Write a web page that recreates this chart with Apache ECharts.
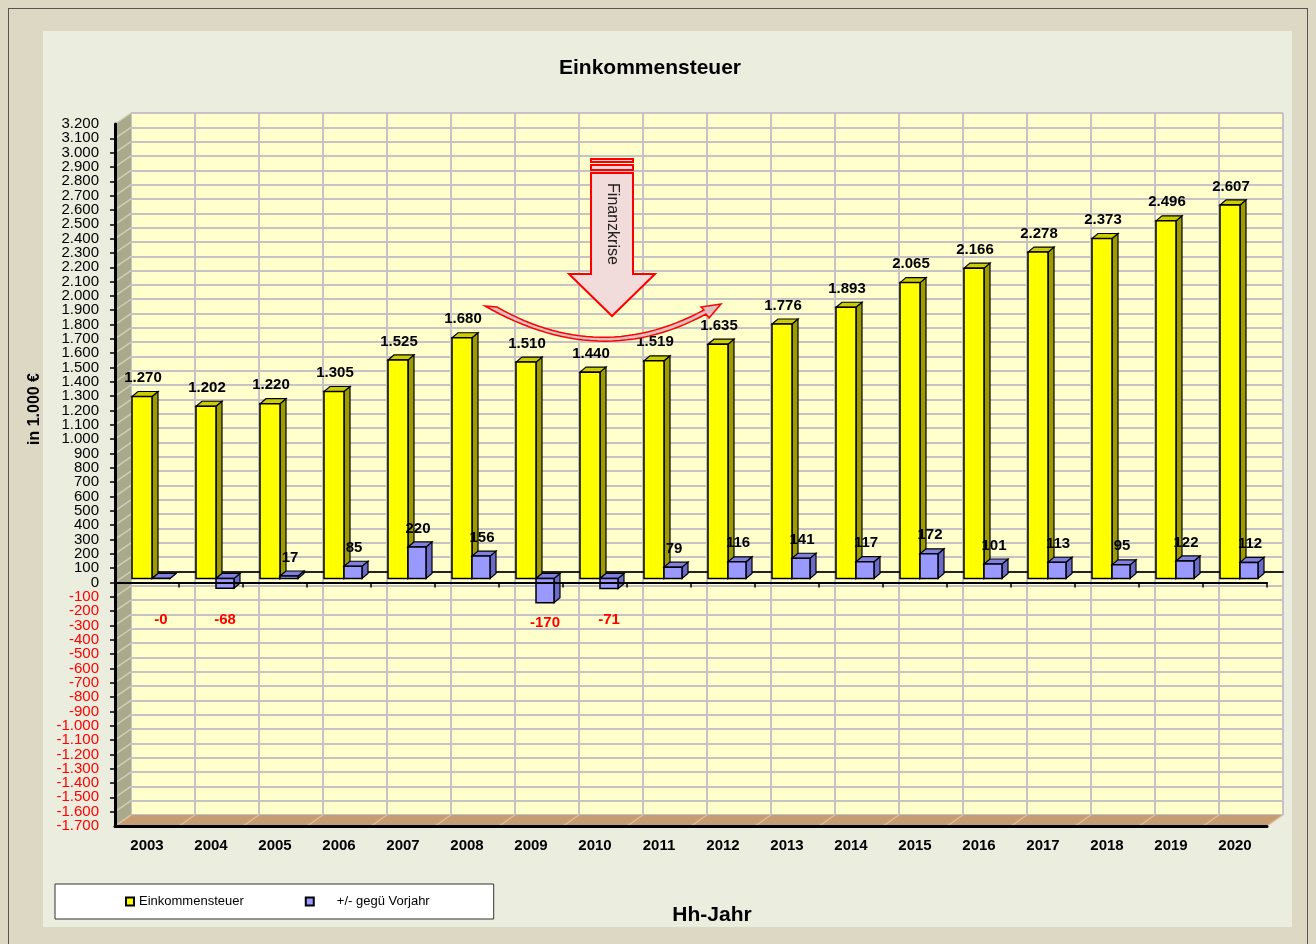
<!DOCTYPE html>
<html>
<head>
<meta charset="utf-8">
<script src="https://cdn.jsdelivr.net/npm/echarts@6/dist/echarts.min.js"></script>
<style>
  html, body { margin: 0; padding: 0; background: #ddd8c3; }
  #frame { position: absolute; left: 8px; top: 8px; width: 1300px; height: 940px; border: 1px solid #555; border-bottom: none; box-sizing: border-box; }
  #panel { position: absolute; left: 43px; top: 31px; width: 1249px; height: 896px; background: #ebeedf; }
  #main { position: absolute; left: 0; top: 0; width: 1316px; height: 944px; }
</style>
</head>
<body>
<div id="frame"></div>
<div id="panel"></div>
<div id="main"></div>
<script>
// data
const years = ["2003", "2004", "2005", "2006", "2007", "2008", "2009", "2010", "2011",
  "2012", "2013", "2014", "2015", "2016", "2017", "2018", "2019", "2020"];
const steuer = [1270, 1202, 1220, 1305, 1525, 1680, 1510, 1440, 1519,
  1635, 1776, 1893, 2065, 2166, 2278, 2373, 2496, 2607];
const diffVorjahr = [-0.3, -68, 17, 85, 220, 156, -170, -71, 79,
  116, 141, 117, 172, 101, 113, 95, 122, 112];
const yMin = -1700, yMax = 3200, yStep = 100;

// layout of the 3d box
const FL = 115, FT = 124, FW = 1152, FH = 702;
const DX = 16, DY = 11;
const FONT = '"Liberation Sans", Arial, sans-serif';

function fmt(v) {
  const s = Math.abs(Math.round(v)).toString().replace(/\B(?=(\d{3})+(?!\d))/g, ".");
  return (v < 0 ? "-" : "") + s;
}

function barRenderer(off0, off1, colors) {
  return function (params, api) {
    const v = api.value(1);
    const p0 = api.coord([api.value(0), 0]);
    const p1 = api.coord([api.value(0), v]);
    const cx = p0[0];
    const x0 = cx + off0, x1 = cx + off1;
    const yU = Math.min(p0[1], p1[1]) - 4;
    const yL = Math.max(p0[1], p1[1]) - 4;
    const d = 6, e = 5;
    const children = [
      { type: "polygon", shape: { points: [[x1, yU], [x1 + d, yU - e], [x1 + d, yL - e], [x1, yL]] },
        style: { fill: colors[1], stroke: "#000", lineWidth: 1.2 } },
      { type: "polygon", shape: { points: [[x0, yU], [x0 + d, yU - e], [x1 + d, yU - e], [x1, yU]] },
        style: { fill: colors[2], stroke: "#000", lineWidth: 1.2 } },
      { type: "rect", shape: { x: x0, y: yU, width: x1 - x0, height: yL - yU },
        style: { fill: colors[0], stroke: "#000", lineWidth: 1.5 } }
    ];
    let tx, ty, fill, va;
    if (v >= 0) {
      tx = (x0 + x1) / 2 + 1;
      ty = yU - 11;
      fill = "#000";
      va = "bottom";
    } else {
      tx = cx + 14;
      ty = Math.max(yL + 20, api.coord([api.value(0), -260])[1]);
      fill = "#ff0000";
      va = "middle";
    }
    children.push({
      type: "text", z2: 10,
      style: { text: fmt(v), x: tx, y: ty, align: "center", verticalAlign: va,
        font: "bold 15px " + FONT, fill: fill }
    });
    return { type: "group", children: children };
  };
}

const chart = echarts.init(document.getElementById("main"), null, { renderer: "canvas" });

const yLabelBase = { margin: 16, fontSize: 15, fontFamily: FONT,
  color: v => (v < 0 ? "#ff0000" : "#000") };

const option = {
  animation: false,
  backgroundColor: "transparent",
  grid: [
    { left: FL + DX, top: FT - DY, width: FW, height: FH, show: true,
      backgroundColor: "#ffffcc", borderColor: "#b8b8b8", borderWidth: 1 },
    { left: FL, top: FT, width: FW, height: FH },
    { left: FL, top: FT, width: FW, height: FH }
  ],
  legend: {
    left: 55, top: 884,
    padding: [11, 64, 11, 70],
    itemGap: 61, itemWidth: 8, itemHeight: 8,
    backgroundColor: "#ffffff", borderColor: "#333", borderWidth: 1,
    icon: "rect",
    data: ["Einkommensteuer", "+/- gegü Vorjahr"],
    formatter: name => (name === "+/- gegü Vorjahr" ? "     " + name : name),
    textStyle: { fontSize: 13, fontFamily: FONT, color: "#000" }
  },
  xAxis: [
    { type: "category", gridIndex: 0, data: years,
      axisLine: { show: true, onZero: true, lineStyle: { color: "#222", width: 2 } },
      axisTick: { show: false }, axisLabel: { show: false },
      splitLine: { show: true, interval: 0, lineStyle: { color: "#c6c2c6", width: 2 } } },
    { type: "category", gridIndex: 1, data: years, position: "bottom", z: 5,
      axisLine: { show: true, onZero: false, lineStyle: { color: "#000", width: 3 } },
      axisTick: { show: false },
      axisLabel: { interval: 0, margin: 12, fontSize: 15, fontWeight: "bold", fontFamily: FONT, color: "#000" },
      splitLine: { show: false } },
    { type: "category", gridIndex: 1, data: years, position: "top", z: 5,
      axisLine: { show: true, onZero: true, lineStyle: { color: "#000", width: 2 } },
      axisTick: { show: true, inside: true, length: 5, interval: 0, lineStyle: { color: "#000", width: 1.5 } },
      axisLabel: { show: false }, splitLine: { show: false } },
    { type: "category", gridIndex: 2, data: years, show: false }
  ],
  yAxis: [
    { type: "value", gridIndex: 0, min: yMin, max: yMax, interval: yStep,
      axisLine: { show: false }, axisTick: { show: false }, axisLabel: { show: false },
      splitLine: { show: true, lineStyle: { color: "#c6c2c6", width: 2 } } },
    { type: "value", gridIndex: 1, min: yMin, max: yMax, interval: yStep, z: 5,
      axisLine: { show: true, lineStyle: { color: "#000", width: 3 } },
      axisTick: { show: true, length: 5, lineStyle: { color: "#000", width: 1.5 } },
      axisLabel: Object.assign({}, yLabelBase, { showMinLabel: false, showMaxLabel: false,
        formatter: v => fmt(v) }),
      splitLine: { show: false } },
    // end labels (min / max) on an identical axis, so they are not dropped for overlap
    { type: "value", gridIndex: 2, min: yMin, max: yMax, interval: yStep, z: 5,
      axisLine: { show: false }, axisTick: { show: false },
      axisLabel: Object.assign({}, yLabelBase, { showMinLabel: true, showMaxLabel: true,
        formatter: v => (v === yMin || v === yMax ? fmt(v) : "") }),
      splitLine: { show: false } }
  ],
  series: [
    { name: "Einkommensteuer", type: "custom", xAxisIndex: 1, yAxisIndex: 1,
      itemStyle: { color: "#ffff00", borderColor: "#000", borderWidth: 2 },
      renderItem: barRenderer(-15, 5, ["#ffff00", "#9c9c00", "#cccc00"]),
      data: steuer.map((v, i) => [i, v]) },
    { name: "+/- gegü Vorjahr", type: "custom", xAxisIndex: 1, yAxisIndex: 1,
      itemStyle: { color: "#9999ff", borderColor: "#000", borderWidth: 2 },
      renderItem: barRenderer(5, 23, ["#9999ff", "#6a6ac8", "#8080e0"]),
      data: diffVorjahr.map((v, i) => [i, v]) }
  ]
};

chart.setOption(option);

// 3d walls, annotations and texts
const graphics = [];
graphics.push({ type: "polygon", z: 1,
  shape: { points: [[FL, FT], [FL + DX, FT - DY], [FL + DX, FT + FH - DY], [FL, FT + FH]] },
  style: { fill: "#a9a98c" } });
graphics.push({ type: "polygon", z: 1,
  shape: { points: [[FL, FT + FH], [FL + DX, FT + FH - DY], [FL + FW + DX, FT + FH - DY], [FL + FW, FT + FH]] },
  style: { fill: "#c69c72" } });
for (let v = yMin; v <= yMax; v += yStep) {
  const y = chart.convertToPixel({ yAxisIndex: 1 }, v);
  graphics.push({ type: "line", z: 1,
    shape: { x1: FL, y1: y, x2: FL + DX, y2: y - DY },
    style: { stroke: "#cfcfba", lineWidth: 1.5 } });
}
for (let i = 0; i <= years.length; i++) {
  const x = FL + i * FW / years.length;
  graphics.push({ type: "line", z: 1,
    shape: { x1: x, y1: FT + FH, x2: x + DX, y2: FT + FH - DY },
    style: { stroke: "#ddc0a0", lineWidth: 1.5 } });
}
// Finanzkrise arrow
const arrowStyle = { fill: "#f2dcdb", stroke: "#ff0000", lineWidth: 2 };
graphics.push({ type: "rect", z: 10, shape: { x: 591, y: 159, width: 42, height: 3 }, style: arrowStyle });
graphics.push({ type: "rect", z: 10, shape: { x: 591, y: 165, width: 42, height: 5 }, style: arrowStyle });
graphics.push({ type: "polygon", z: 10,
  shape: { points: [[591, 173], [633, 173], [633, 274], [655, 274], [612, 316], [569, 274], [591, 274]] },
  style: arrowStyle });
graphics.push({ type: "text", z: 11, x: 612, y: 224, rotation: -Math.PI / 2,
  style: { text: "Finanzkrise", align: "center", verticalAlign: "middle",
    font: "16px " + FONT, fill: "#222" } });
// curved arrow below the crisis years
function quad(a, c, b, n) {
  const pts = [];
  for (let k = 0; k <= n; k++) {
    const t = k / n;
    pts.push([(1 - t) * (1 - t) * a[0] + 2 * t * (1 - t) * c[0] + t * t * b[0],
      (1 - t) * (1 - t) * a[1] + 2 * t * (1 - t) * c[1] + t * t * b[1]]);
  }
  return pts;
}
const curvePts = quad([485, 306], [600, 372], [706, 314], 30)
  .concat([[709, 318], [721, 304], [701, 307]])
  .concat(quad([704, 310], [600, 366], [497, 307], 30));
graphics.push({ type: "polygon", z: 10, shape: { points: curvePts },
  style: { fill: "#dcc0c0", stroke: "#ff0000", lineWidth: 1.5 } });
// texts
graphics.push({ type: "text", z: 10, x: 650, y: 68,
  style: { text: "Einkommensteuer", align: "center", verticalAlign: "middle",
    font: "bold 21px " + FONT, fill: "#000" } });
graphics.push({ type: "text", z: 10, x: 712, y: 915,
  style: { text: "Hh-Jahr", align: "center", verticalAlign: "middle",
    font: "bold 21px " + FONT, fill: "#000" } });
graphics.push({ type: "text", z: 10, x: 35, y: 409, rotation: Math.PI / 2,
  style: { text: "in 1.000 €", align: "center", verticalAlign: "middle",
    font: "bold 16px " + FONT, fill: "#000" } });

chart.setOption({ graphic: { elements: graphics } });
</script>
</body>
</html>
